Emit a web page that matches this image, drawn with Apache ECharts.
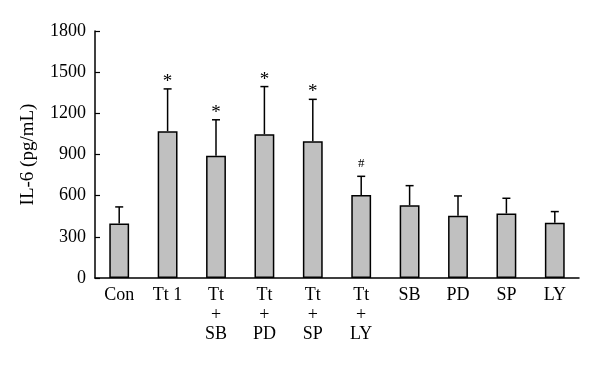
<!DOCTYPE html>
<html>
<head>
<meta charset="utf-8">
<script src="https://cdn.jsdelivr.net/npm/echarts@6/dist/echarts.min.js"></script>
<style>html,body{margin:0;padding:0;background:#fff}#c{width:600px;height:367px}</style>
</head>
<body>
<div id="c"></div>
<script>
var categories = ["Con", "Tt 1", "Tt\n+\nSB", "Tt\n+\nPD", "Tt\n+\nSP", "Tt\n+\nLY", "SB", "PD", "SP", "LY"];
var means = [397, 1070, 890, 1048, 997, 605, 530, 453, 470, 402];
var upper = [518, 1378, 1153, 1395, 1302, 741, 673, 598, 581, 484];
var marks = ["", "*", "*", "*", "*", "#", "", "", "", ""];
var yTicks = [0, 300, 600, 900, 1200, 1500, 1800];

var font = "Liberation Serif";
var chart = echarts.init(document.getElementById('c'));
chart.setOption({
  animation: false,
  grid: { left: 95, right: 21, top: 31, bottom: 89 },
  xAxis: {
    type: 'category',
    data: categories,
    axisLine: { lineStyle: { color: '#000', width: 1.5 } },
    axisTick: { inside: true, length: 4, lineStyle: { color: '#000', width: 1.2 } },
    axisLabel: { color: '#000', fontFamily: font, fontSize: 18, lineHeight: 19.2, margin: 8, interval: 0 }
  },
  yAxis: {
    type: 'value',
    min: yTicks[0], max: yTicks[yTicks.length - 1], interval: 300,
    name: 'IL-6 (pg/mL)',
    nameLocation: 'middle',
    nameGap: 57,
    nameTextStyle: { color: '#000', fontFamily: font, fontSize: 19 },
    axisLine: { show: true, lineStyle: { color: '#000', width: 1.5 } },
    axisTick: { show: true, inside: true, length: 5, lineStyle: { color: '#000', width: 1.2 } },
    axisLabel: { color: '#000', fontFamily: font, fontSize: 18, margin: 9, formatter: function (v) { return String(v); } },
    splitLine: { show: false }
  },
  series: [
    {
      type: 'bar',
      data: means,
      barWidth: '41%',
      itemStyle: { color: '#c0c0c0', borderColor: '#000', borderWidth: 1.5 }
    },
    {
      type: 'custom',
      data: categories.map(function (c, i) { return [i, means[i], upper[i]]; }),
      renderItem: function (params, api) {
        var x = api.coord([api.value(0), 0])[0];
        var yTop = api.coord([api.value(0), api.value(1)])[1];
        var yErr = api.coord([api.value(0), api.value(2)])[1];
        var idx = params.dataIndex;
        var children = [
          { type: 'line', shape: { x1: x, y1: yTop, x2: x, y2: yErr }, style: { stroke: '#000', lineWidth: 1.5 } },
          { type: 'line', shape: { x1: x - 4, y1: yErr, x2: x + 4, y2: yErr }, style: { stroke: '#000', lineWidth: 1.5 } }
        ];
        if (marks[idx]) {
          var isHash = marks[idx] === '#';
          children.push({
            type: 'text',
            style: {
              text: marks[idx], x: x, y: isHash ? yErr - 13 : yErr - 7,
              textAlign: 'center', textVerticalAlign: 'middle',
              fill: '#000', fontFamily: font, fontSize: isHash ? 13 : 19
            }
          });
        }
        return { type: 'group', children: children };
      },
      z: 5
    }
  ]
});
</script>
</body>
</html>
